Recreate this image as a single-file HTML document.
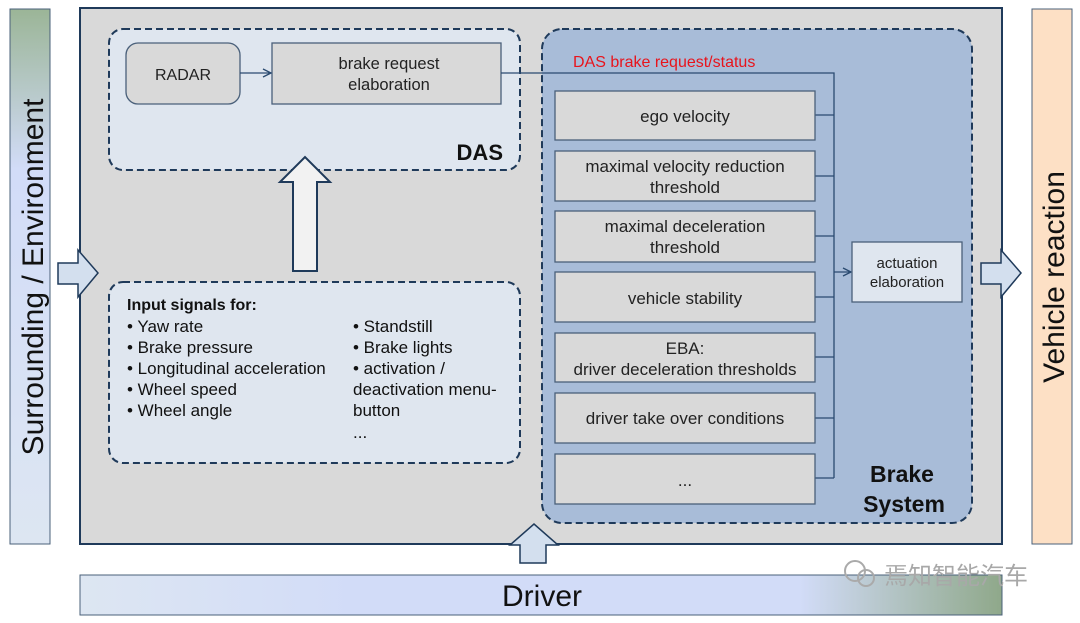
<!DOCTYPE html>
<html><head><meta charset="utf-8"><style>
html,body{margin:0;padding:0;background:#fff;}
svg{display:block;font-family:"Liberation Sans","Noto Sans CJK SC",sans-serif;}
</style></head><body>
<svg width="1080" height="623" viewBox="0 0 1080 623" xmlns="http://www.w3.org/2000/svg">
<defs>
<linearGradient id="lg" x1="0" y1="0" x2="0" y2="1">
<stop offset="0" stop-color="#9bb597"/><stop offset="0.3" stop-color="#d2dcf8"/><stop offset="1" stop-color="#dde6f2"/>
</linearGradient>
<linearGradient id="dg" x1="0" y1="0" x2="1" y2="0">
<stop offset="0" stop-color="#dde6f2"/><stop offset="0.3" stop-color="#d2dcf8"/><stop offset="0.78" stop-color="#d2dcf8"/><stop offset="1" stop-color="#8fa88a"/>
</linearGradient>
<marker id="ah" markerWidth="10" markerHeight="10" refX="9" refY="5" orient="auto" markerUnits="userSpaceOnUse">
<path d="M1,1 L9,5 L1,9" fill="none" stroke="#2a4a70" stroke-width="1.3"/>
</marker>
</defs>
<rect x="10" y="9" width="40" height="535" fill="url(#lg)" stroke="#4a607a" stroke-width="1"/>
<text transform="translate(43,277) rotate(-90)" text-anchor="middle" font-size="30" fill="#111">Surrounding / Environment</text>
<rect x="1032" y="9" width="40" height="535" fill="#fde0c5" stroke="#4a607a" stroke-width="1"/>
<text transform="translate(1064,277) rotate(-90)" text-anchor="middle" font-size="30" fill="#111">Vehicle reaction</text>
<rect x="80" y="8" width="922" height="536" fill="#d9d9d9" stroke="#1f3a5a" stroke-width="2"/>
<rect x="80" y="575" width="922" height="40" fill="url(#dg)" stroke="#4a607a" stroke-width="1"/>
<text x="542" y="606" text-anchor="middle" font-size="30" fill="#111">Driver</text>
<path d="M58,263 L78,263 L78,250 L98,273 L78,297 L78,284 L58,284 Z" fill="#d3dfee" stroke="#1f3a5a" stroke-width="1.5"/>
<path d="M981,263 L1001,263 L1001,250 L1021,273 L1001,297 L1001,284 L981,284 Z" fill="#d3dfee" stroke="#1f3a5a" stroke-width="1.5"/>
<path d="M520,563 L520,545 L510,545 L534,524 L558,545 L546,545 L546,563 Z" fill="#d3dfee" stroke="#1f3a5a" stroke-width="1.5"/>
<rect x="109" y="29" width="411" height="141" rx="14" fill="#dfe6ef" stroke="#1f3a5a" stroke-width="2" stroke-dasharray="7,4"/>
<rect x="126" y="43" width="114" height="61" rx="12" fill="#d9d9d9" stroke="#4a607a" stroke-width="1.3"/>
<text x="183" y="80" text-anchor="middle" font-size="16" fill="#222">RADAR</text>
<rect x="272" y="43" width="229" height="61" fill="#d9d9d9" stroke="#4a607a" stroke-width="1.3"/>
<text x="389" y="69" text-anchor="middle" font-size="16.5" fill="#222">brake request</text>
<text x="389" y="90" text-anchor="middle" font-size="16.5" fill="#222">elaboration</text>
<line x1="240" y1="73" x2="271" y2="73" stroke="#2a4a70" stroke-width="1.3" marker-end="url(#ah)"/>
<text x="503" y="160" text-anchor="end" font-size="22" font-weight="bold" fill="#111">DAS</text>
<path d="M293,271 L293,182 L280,182 L305,157 L330,182 L317,182 L317,271 Z" fill="#f2f2f2" stroke="#1f3a5a" stroke-width="2"/>
<rect x="109" y="282" width="411" height="181" rx="14" fill="#dfe6ef" stroke="#1f3a5a" stroke-width="2" stroke-dasharray="7,4"/>
<g font-size="17" fill="#111">
<text x="127" y="310" font-weight="bold" font-size="16">Input signals for:</text>
<text x="127" y="332">• Yaw rate</text>
<text x="127" y="353">• Brake pressure</text>
<text x="127" y="374">• Longitudinal acceleration</text>
<text x="127" y="395">• Wheel speed</text>
<text x="127" y="416">• Wheel angle</text>
<text x="353" y="332">• Standstill</text>
<text x="353" y="353">• Brake lights</text>
<text x="353" y="374">• activation /</text>
<text x="353" y="395">deactivation menu-</text>
<text x="353" y="416">button</text>
<text x="353" y="438">...</text>
</g>
<rect x="542" y="29" width="430" height="494" rx="20" fill="#a8bcd8" stroke="#1f3a5a" stroke-width="2" stroke-dasharray="7,4"/>
<text x="573" y="67" font-size="16" fill="#e8141c">DAS brake request/status</text>
<polyline points="501,73 834,73 834,478" fill="none" stroke="#2a4a70" stroke-width="1.3"/>
<g stroke="#2a4a70" stroke-width="1.3">
<line x1="815" y1="115" x2="834" y2="115"/>
<line x1="815" y1="176" x2="834" y2="176"/>
<line x1="815" y1="236" x2="834" y2="236"/>
<line x1="815" y1="297" x2="834" y2="297"/>
<line x1="815" y1="357" x2="834" y2="357"/>
<line x1="815" y1="418" x2="834" y2="418"/>
<line x1="815" y1="478" x2="834" y2="478"/>
</g>
<line x1="834" y1="272" x2="851" y2="272" stroke="#2a4a70" stroke-width="1.3" marker-end="url(#ah)"/>
<g fill="#d9d9d9" stroke="#4a607a" stroke-width="1.3">
<rect x="555" y="91" width="260" height="49"/>
<rect x="555" y="151" width="260" height="50"/>
<rect x="555" y="211" width="260" height="51"/>
<rect x="555" y="272" width="260" height="50"/>
<rect x="555" y="333" width="260" height="49"/>
<rect x="555" y="393" width="260" height="50"/>
<rect x="555" y="454" width="260" height="50"/>
</g>
<g font-size="17" fill="#222" text-anchor="middle">
<text x="685" y="122">ego velocity</text>
<text x="685" y="172">maximal velocity reduction</text>
<text x="685" y="193">threshold</text>
<text x="685" y="232">maximal deceleration</text>
<text x="685" y="253">threshold</text>
<text x="685" y="304">vehicle stability</text>
<text x="685" y="354">EBA:</text>
<text x="685" y="375">driver deceleration thresholds</text>
<text x="685" y="424">driver take over conditions</text>
<text x="685" y="486">...</text>
</g>
<rect x="852" y="242" width="110" height="60" fill="#dfe6ef" stroke="#4a607a" stroke-width="1.3"/>
<text x="907" y="268" text-anchor="middle" font-size="15" fill="#222">actuation</text>
<text x="907" y="287" text-anchor="middle" font-size="15" fill="#222">elaboration</text>
<text x="902" y="482" text-anchor="middle" font-size="23" font-weight="bold" fill="#111">Brake</text>
<text x="904" y="512" text-anchor="middle" font-size="23" font-weight="bold" fill="#111">System</text>
<circle cx="855" cy="571" r="10" fill="none" stroke="#aaa" stroke-width="2"/>
<circle cx="866" cy="578" r="8" fill="none" stroke="#aaa" stroke-width="2"/>
<text x="884" y="584" font-size="24" fill="#a8a8a8">焉知智能汽车</text>
</svg>
</body></html>
